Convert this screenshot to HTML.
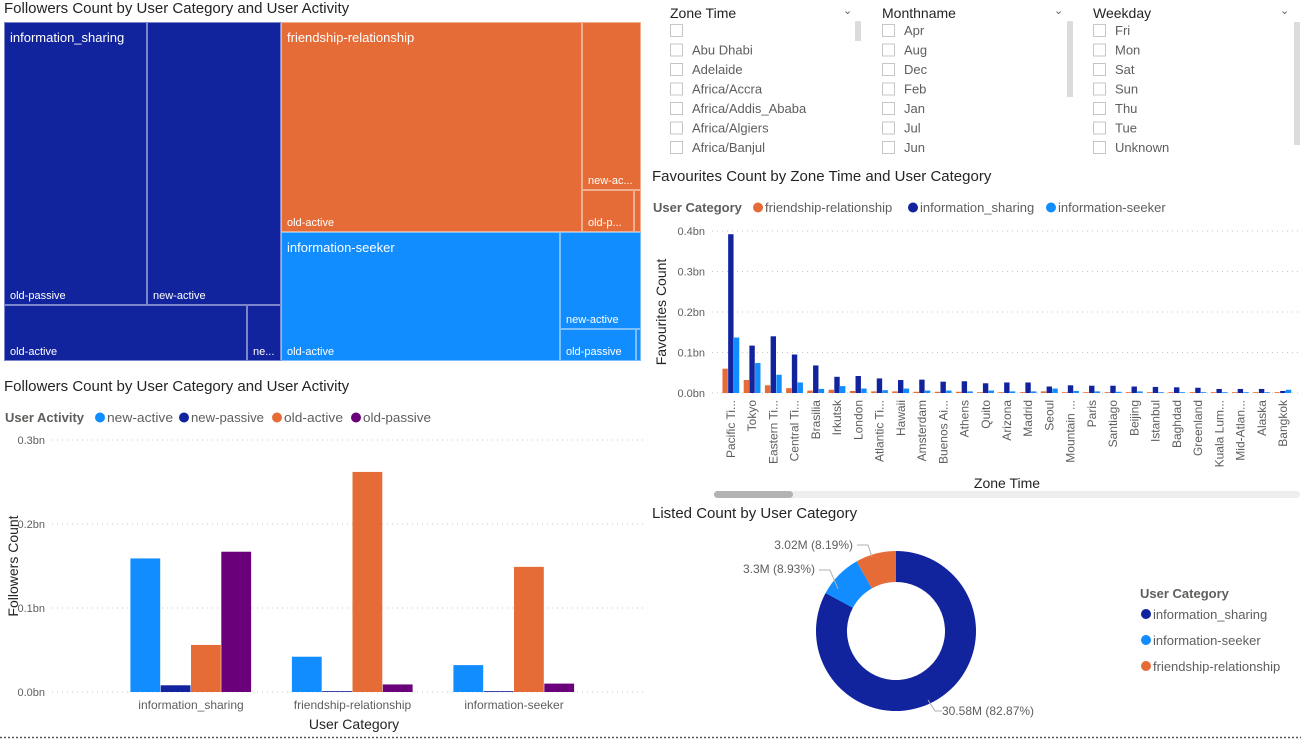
<!DOCTYPE html>
<html><head><meta charset="utf-8">
<style>
body{margin:0;width:1301px;height:739px;background:#fff;font-family:"Liberation Sans",sans-serif;color:#252423;position:relative;overflow:hidden}
.abs{position:absolute}
.title{position:absolute;font-size:15px;color:#252423;white-space:nowrap}
.tm{position:absolute;box-sizing:border-box;border:1px solid rgba(255,255,255,0.45);color:#fff;font-size:11px;overflow:hidden}
.tm .b{position:absolute;left:5px;bottom:2px;white-space:nowrap}
.tm .t{position:absolute;left:5px;top:7px;font-size:13px;white-space:nowrap}
.sl{position:absolute;font-size:13px;color:#605e5c}
.sl .h{position:absolute;top:5px;font-size:14px;color:#252423;white-space:nowrap}
.sl .chev{position:absolute;top:4px;font-size:11px;color:#605e5c}
.sb{position:absolute;background:#dcdcdc;width:6px}
</style></head><body>

<div class="title" style="left:4px;top:0px">Followers Count by User Category and User Activity</div>
<div class="abs" style="left:4px;top:22px;width:637px;height:339px">
  <div class="tm" style="left:0;top:0;width:143px;height:283px;background:#12239e"><div class="t">information_sharing</div><div class="b">old-passive</div></div>
  <div class="tm" style="left:143px;top:0;width:134px;height:283px;background:#12239e"><div class="b">new-active</div></div>
  <div class="tm" style="left:0;top:283px;width:243px;height:56px;background:#12239e"><div class="b">old-active</div></div>
  <div class="tm" style="left:243px;top:283px;width:34px;height:56px;background:#12239e"><div class="b">ne...</div></div>
  <div class="tm" style="left:277px;top:0;width:301px;height:210px;background:#e66c37"><div class="t">friendship-relationship</div><div class="b">old-active</div></div>
  <div class="tm" style="left:578px;top:0;width:59px;height:168px;background:#e66c37"><div class="b">new-ac...</div></div>
  <div class="tm" style="left:578px;top:168px;width:52px;height:42px;background:#e66c37"><div class="b">old-p...</div></div>
  <div class="tm" style="left:630px;top:168px;width:7px;height:42px;background:#e66c37"></div>
  <div class="tm" style="left:277px;top:210px;width:279px;height:129px;background:#118dff"><div class="t">information-seeker</div><div class="b">old-active</div></div>
  <div class="tm" style="left:556px;top:210px;width:81px;height:97px;background:#118dff"><div class="b">new-active</div></div>
  <div class="tm" style="left:556px;top:307px;width:76px;height:32px;background:#118dff"><div class="b">old-passive</div></div>
  <div class="tm" style="left:632px;top:307px;width:5px;height:32px;background:#118dff"></div>
</div>

<div class="sl" style="left:670px;top:0;width:190px;height:160px">
  <div class="h">Zone Time</div>
  <div class="chev" style="left:173px">&#8964;</div>
</div>
<div class="sl" style="left:882px;top:0;width:190px;height:160px">
  <div class="h">Monthname</div>
  <div class="chev" style="left:172px">&#8964;</div>
</div>
<div class="sl" style="left:1093px;top:0;width:208px;height:160px">
  <div class="h">Weekday</div>
  <div class="chev" style="left:187px">&#8964;</div>
</div>
<div class="sb" style="left:855px;top:21px;height:20px"></div>
<div class="sb" style="left:1067px;top:21px;height:76px"></div>
<div class="sb" style="left:1294px;top:22px;height:123px"></div>

<div class="title" style="left:652px;top:168px">Favourites Count by Zone Time and User Category</div>
<svg class="abs" style="left:0;top:0" width="1301" height="739" id="main">
</svg>

<div class="title" style="left:4px;top:378px">Followers Count by User Category and User Activity</div>
<div class="title" style="left:652px;top:505px">Listed Count by User Category</div>

<script>
// ---------- slicer data ----------
const zoneItems = ["", "Abu Dhabi", "Adelaide", "Africa/Accra", "Africa/Addis_Ababa", "Africa/Algiers", "Africa/Banjul"];
const monthItems = ["Apr", "Aug", "Dec", "Feb", "Jan", "Jul", "Jun"];
const dayItems = ["Fri", "Mon", "Sat", "Sun", "Thu", "Tue", "Unknown"];

// ---------- followers bar chart data ----------
const folCategories = ["information_sharing", "friendship-relationship", "information-seeker"];
const folSeriesNames = ["new-active", "new-passive", "old-active", "old-passive"];
const folNewActive = [0.159, 0.042, 0.032];
const folNewPassive = [0.008, 0.001, 0.001];
const folOldActive = [0.056, 0.262, 0.149];
const folOldPassive = [0.167, 0.009, 0.010];
const folTicks = [0, 0.1, 0.2, 0.3];
const folTickLabels = ["0.0bn", "0.1bn", "0.2bn", "0.3bn"];

// ---------- favourites bar chart data ----------
const favZones = ["Pacific Ti...", "Tokyo", "Eastern Ti...", "Central Ti...", "Brasilia", "Irkutsk", "London", "Atlantic Ti...", "Hawaii", "Amsterdam", "Buenos Ai...", "Athens", "Quito", "Arizona", "Madrid", "Seoul", "Mountain ...", "Paris", "Santiago", "Beijing", "Istanbul", "Baghdad", "Greenland", "Kuala Lum...", "Mid-Atlan...", "Alaska", "Bangkok"];
const favFriendship = [0.060, 0.032, 0.019, 0.012, 0.006, 0.008, 0.005, 0.004, 0.004, 0.003, 0.003, 0.003, 0.002, 0.002, 0.002, 0.004, 0.002, 0.002, 0.002, 0.002, 0.002, 0.002, 0.002, 0.002, 0.002, 0.002, 0.002];
const favInfoSharing = [0.392, 0.117, 0.140, 0.095, 0.068, 0.040, 0.042, 0.036, 0.032, 0.033, 0.028, 0.029, 0.024, 0.026, 0.026, 0.016, 0.019, 0.018, 0.018, 0.016, 0.015, 0.014, 0.013, 0.010, 0.010, 0.010, 0.005];
const favInfoSeeker = [0.137, 0.074, 0.045, 0.026, 0.010, 0.017, 0.011, 0.007, 0.011, 0.006, 0.006, 0.004, 0.006, 0.004, 0.004, 0.011, 0.005, 0.004, 0.003, 0.004, 0.002, 0.002, 0.002, 0.002, 0.002, 0.002, 0.008];
const favTicks = [0, 0.1, 0.2, 0.3, 0.4];
const favTickLabels = ["0.0bn", "0.1bn", "0.2bn", "0.3bn", "0.4bn"];

// ---------- donut data ----------
const donutCats = ["information_sharing", "information-seeker", "friendship-relationship"];
const donutValues = [30.58, 3.3, 3.02];
const donutLabels = ["30.58M (82.87%)", "3.3M (8.93%)", "3.02M (8.19%)"];

const NS = "http://www.w3.org/2000/svg";
const svg = document.getElementById('main');
function mk(tag, attrs, parent, text) {
  const e = document.createElementNS(NS, tag);
  for (const k in attrs) e.setAttribute(k, attrs[k]);
  if (text !== undefined) e.textContent = text;
  (parent || svg).appendChild(e);
  return e;
}
const DARK = "#12239e", LIGHT = "#118dff", ORANGE = "#e66c37", PURPLE = "#6b007b";
const FONT = "Liberation Sans, sans-serif";

function slicer(items, x, prefix) {
  items.forEach((s, i) => {
    const y = 24 + i * 19.5;
    const r = mk('rect', {x: x + 0.5, y: y + 0.5, width: 12, height: 12, fill: '#fff', stroke: '#c8c6c4'});
    
    
    const t = mk('text', {x: x + 22, y: y + 11, 'font-size': 13, fill: '#605e5c', 'font-family': FONT}, svg, s);
    
    
  });
}
slicer(zoneItems, 670, 'zone-time');
slicer(monthItems, 882, 'monthname');
slicer(dayItems, 1093, 'weekday');
mk('rect', {x: 660, y: 158, width: 640, height: 8, fill: '#fff'});

// ---------- followers chart ----------
(function () {
  const x0 = 52, x1 = 645, yBase = 692, yTop = 440, vmax = 0.3;
  const y = v => yBase - v / vmax * (yBase - yTop);
  const cx = i => 191 + i * 161.5;
  const bw = 30.3;
  const lg = mk('g', {});
  
  
  mk('text', {x: 5, y: 422, 'font-size': 13, 'font-weight': 'bold', fill: '#605e5c', 'font-family': FONT}, lg, 'User Activity');
  const lcols = [LIGHT, DARK, ORANGE, PURPLE];
  const lx = [100, 184, 277, 356];
  const lw = [66, 73, 59, 68];
  folSeriesNames.forEach((n, i) => {
    const g = mk('g', {}, lg);
    
    
    mk('circle', {cx: lx[i], cy: 417.5, r: 5, fill: lcols[i]}, g);
    mk('text', {x: lx[i] + 7, y: 422, 'font-size': 13, fill: '#605e5c', 'font-family': FONT, textLength: lw[i], lengthAdjust: 'spacingAndGlyphs'}, g, n);
  });
  folTicks.forEach((t, i) => {
    const gl = mk('line', {x1: x0, x2: x1, y1: y(t), y2: y(t), stroke: '#c8c6c4', 'stroke-dasharray': '1 4'});
    
    
    const tl = mk('text', {x: 45, y: y(t) + 4, 'font-size': 11, 'text-anchor': 'end', fill: '#605e5c', 'font-family': FONT}, svg, folTickLabels[i]);
    
    
  });
  const series = [folNewActive, folNewPassive, folOldActive, folOldPassive];
  folCategories.forEach((c, i) => {
    series.forEach((arr, s) => {
      const bx = cx(i) - 2 * bw + s * bw;
      const r = mk('rect', {x: bx, y: y(arr[i]), width: bw - 0.5, height: yBase - y(arr[i]), fill: lcols[s]});
      
      
    });
    const t = mk('text', {x: cx(i), y: 709, 'font-size': 12, 'text-anchor': 'middle', fill: '#605e5c', 'font-family': FONT}, svg, c);
    
    
  });
  const xt = mk('text', {x: 354, y: 729, 'font-size': 14, 'text-anchor': 'middle', fill: '#252423', 'font-family': FONT}, svg, 'User Category');
  
  
  const yt = mk('text', {x: 0, y: 0, 'font-size': 14, 'text-anchor': 'middle', fill: '#252423', 'font-family': FONT, transform: 'translate(18,566) rotate(-90)'}, svg, 'Followers Count');
  
  
})();

// ---------- favourites chart ----------
(function () {
  const x0 = 712, x1 = 1300, yBase = 393, yTop = 231, vmax = 0.4;
  const y = v => yBase - v / vmax * (yBase - yTop);
  const cx = i => 731 + i * 21.23;
  const bw = 5.7;
  const lg = mk('g', {});
  
  
  mk('text', {x: 653, y: 212, 'font-size': 13, 'font-weight': 'bold', fill: '#605e5c', 'font-family': FONT}, lg, 'User Category');
  const names = ['friendship-relationship', 'information_sharing', 'information-seeker'];
  const cols = [ORANGE, DARK, LIGHT];
  const lx = [758, 913, 1051];
  names.forEach((n, i) => {
    const g = mk('g', {}, lg);
    
    
    mk('circle', {cx: lx[i], cy: 207.5, r: 5, fill: cols[i]}, g);
    mk('text', {x: lx[i] + 7, y: 212, 'font-size': 13, fill: '#605e5c', 'font-family': FONT}, g, n);
  });
  favTicks.forEach((t, i) => {
    const gl = mk('line', {x1: x0, x2: x1, y1: y(t), y2: y(t), stroke: '#c8c6c4', 'stroke-dasharray': '1 4'});
    
    
    const tl = mk('text', {x: 705, y: y(t) + 4, 'font-size': 11, 'text-anchor': 'end', fill: '#605e5c', 'font-family': FONT}, svg, favTickLabels[i]);
    
    
  });
  const series = [favFriendship, favInfoSharing, favInfoSeeker];
  favZones.forEach((z, i) => {
    series.forEach((arr, s) => {
      const r = mk('rect', {x: cx(i) - 1.5 * bw + s * bw, y: y(arr[i]), width: bw - 0.3, height: yBase - y(arr[i]), fill: cols[s]});
      
      
    });
    const t = mk('text', {x: 0, y: 0, 'font-size': 12, 'text-anchor': 'end', fill: '#605e5c', 'font-family': FONT, transform: 'translate(' + (cx(i) + 4) + ',400) rotate(-90)'}, svg, z);
    
    
  });
  const xt = mk('text', {x: 1007, y: 488, 'font-size': 14, 'text-anchor': 'middle', fill: '#252423', 'font-family': FONT}, svg, 'Zone Time');
  
  
  const yt = mk('text', {x: 0, y: 0, 'font-size': 14, 'text-anchor': 'middle', fill: '#252423', 'font-family': FONT, transform: 'translate(666,312) rotate(-90)'}, svg, 'Favourites Count');
  
  
  const tr = mk('rect', {x: 714, y: 491, width: 586, height: 7, rx: 3.5, fill: '#eeeeee'});
  
  
  const th = mk('rect', {x: 714, y: 491, width: 79, height: 7, rx: 3.5, fill: '#b3b3b3'});
  
  
})();

// ---------- donut ----------
(function () {
  const cx = 896, cy = 631, R = 80, r = 49;
  const cols = [DARK, LIGHT, ORANGE];
  const total = donutValues.reduce((a, b) => a + b, 0);
  let a0 = 0;
  const pt = (rad, a) => [cx + rad * Math.sin(a), cy - rad * Math.cos(a)];
  donutValues.forEach((v, i) => {
    const a1 = a0 + v / total * Math.PI * 2;
    const large = (a1 - a0) > Math.PI ? 1 : 0;
    const p1 = pt(R, a0), p2 = pt(R, a1), p3 = pt(r, a1), p4 = pt(r, a0);
    const d = `M${p1[0]},${p1[1]} A${R},${R} 0 ${large} 1 ${p2[0]},${p2[1]} L${p3[0]},${p3[1]} A${r},${r} 0 ${large} 0 ${p4[0]},${p4[1]} Z`;
    const p = mk('path', {d: d, fill: cols[i]});
    
    
    a0 = a1;
  });
  const lab = [
    {lx: 942, ly: 715, path: 'M928,700 L935,711 L942,711', anchor: 'start'},
    {lx: 815, ly: 573, path: 'M838,589 L830,570 L819,570', anchor: 'end'},
    {lx: 853, ly: 549, path: 'M872,557 L868,545 L857,545', anchor: 'end'}
  ];
  donutLabels.forEach((s, i) => {
    const l = mk('path', {d: lab[i].path, stroke: '#b3b0ad', fill: 'none'});
    
    
    const t = mk('text', {x: lab[i].lx, y: lab[i].ly, 'font-size': 12, 'text-anchor': lab[i].anchor, fill: '#605e5c', 'font-family': FONT}, svg, s);
    
    
  });
  const lg = mk('g', {});
  
  
  mk('text', {x: 1140, y: 598, 'font-size': 13, 'font-weight': 'bold', fill: '#605e5c', 'font-family': FONT}, lg, 'User Category');
  donutCats.forEach((c, i) => {
    const g = mk('g', {}, lg);
    
    
    const yy = 614 + i * 26;
    mk('circle', {cx: 1146, cy: yy, r: 5, fill: cols[i]}, g);
    mk('text', {x: 1153, y: yy + 5, 'font-size': 13, fill: '#605e5c', 'font-family': FONT}, g, c);
  });
})();

const sep = mk('line', {x1: 0, x2: 1301, y1: 737.5, y2: 737.5, stroke: '#555', 'stroke-dasharray': '2 2', 'stroke-width': 1.5});


</script>
</body></html>
